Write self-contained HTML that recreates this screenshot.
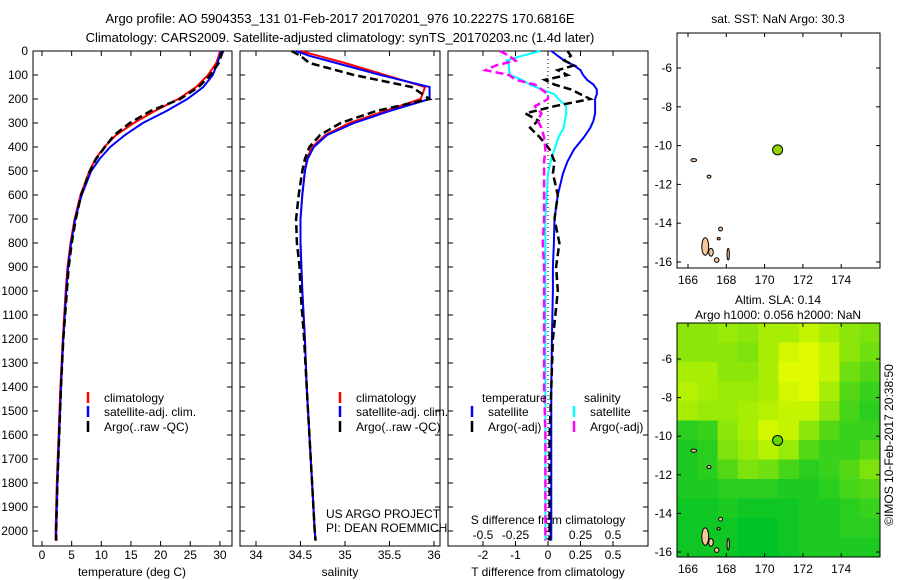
<!DOCTYPE html>
<html><head><meta charset="utf-8">
<style>
html,body{margin:0;padding:0;background:#fff;}
svg{display:block;font-family:"Liberation Sans",sans-serif;}
</style></head>
<body>
<svg id="c" width="900" height="580" viewBox="0 0 900 580" xmlns="http://www.w3.org/2000/svg"></svg>
<script>
// ---- data ----
const depthTicks=[0,100,200,300,400,500,600,700,800,900,1000,1100,1200,1300,1400,1500,1600,1700,1800,1900,2000];
const tempTicks=[0,5,10,15,20,25,30];
const salTicks=[34,34.5,35,35.5,36];
const tdiffTicks=[-2,-1,0,0.5];
const sdiffTicks=[-0.5,-0.25,0,0.25,0.5];
const lonTicks=[166,168,170,172,174];
const latTicks=[-6,-8,-10,-12,-14,-16];

const depths=[0,20,50,100,150,200,250,300,350,400,450,500,600,700,800,900,1000,1200,1400,1600,1800,2000,2040];
const tempClim=[30,29.8,29.4,28,26,23,19,15.5,12.5,10.5,9,8,6.5,5.5,4.8,4.3,4,3.5,3.1,2.8,2.5,2.3,2.3];
const tempSat=[30.2,30,29.6,28.8,27.2,24.5,21,17,14,11.5,9.7,8.3,6.7,5.6,4.9,4.4,4.1,3.6,3.2,2.9,2.6,2.4,2.4];
const tempArgo=[30.5,30.2,29.8,28.4,26.4,23.3,18.3,14.8,12.2,10.6,9.1,8.1,6.6,5.7,5.0,4.5,4.2,3.6,3.2,2.9,2.6,2.4,2.4];
const salClim=[34.5,34.7,35.0,35.45,35.9,35.85,35.45,35.05,34.78,34.63,34.57,34.55,34.52,34.5,34.5,34.51,34.52,34.55,34.57,34.6,34.63,34.66,34.67];
const salSat=[34.45,34.6,34.9,35.4,35.95,35.95,35.5,35.1,34.8,34.65,34.58,34.55,34.52,34.5,34.5,34.51,34.52,34.55,34.57,34.6,34.63,34.66,34.67];
const salArgo=[34.4,34.5,34.6,35.1,35.75,35.95,35.35,34.95,34.72,34.6,34.55,34.52,34.48,34.45,34.46,34.49,34.5,34.54,34.57,34.6,34.63,34.66,34.67];

const diffDepths=[0,20,40,60,80,100,120,140,160,180,200,230,260,290,320,360,410,460,510,600,700,800,900,1000,1200,1400,1600,1800,2000,2040];
const tdiffSat=[0.1,0.3,0.5,0.8,1.0,1.08,1.2,1.4,1.5,1.5,1.45,1.45,1.45,1.4,1.3,1.1,0.8,0.6,0.46,0.3,0.2,0.18,0.15,0.15,0.12,0.1,0.1,0.1,0.1,0.1];
const tdiffArgo=[0.6,0.7,0.5,0.8,0.3,0.6,-0.1,0.2,0.7,1.0,1.3,0.2,-0.7,-0.3,-0.55,-0.25,0.05,0.2,0.15,0.3,0.2,0.35,0.25,0.3,0.15,0.1,0.05,0.05,0.05,0.05];
const sdiffSat=[-0.06,-0.2,-0.32,-0.3,-0.3,-0.29,-0.2,-0.14,-0.05,0.05,0.08,0.14,0.14,0.13,0.12,0.08,0.05,0.02,0.0,-0.01,-0.02,-0.02,-0.02,-0.02,-0.02,-0.02,-0.02,-0.02,-0.02,-0.02];
const sdiffArgo=[-0.37,-0.3,-0.25,-0.4,-0.48,-0.3,-0.25,-0.1,-0.05,0.0,0.0,-0.1,-0.05,-0.08,-0.05,-0.03,-0.02,-0.03,-0.03,-0.03,-0.03,-0.04,-0.03,-0.03,-0.03,-0.03,-0.02,-0.02,-0.02,-0.02];

const argoLon=170.68, argoLat=-10.22;
const islands=[[166.3,-10.75,0.15,0.08],[167.1,-11.6,0.1,0.08],[166.9,-15.2,0.18,0.45],[167.2,-15.5,0.12,0.2],[167.7,-14.3,0.1,0.1],[167.5,-15.9,0.12,0.12],[168.1,-15.6,0.06,0.3],[167.6,-14.8,0.08,0.06]];
const slaLats=[-5,-6,-7,-8,-9,-10,-11,-12,-13,-14,-15,-16];
const slaGrid=[
[0.5,0.5,0.55,0.5,0.6,0.6,0.7,0.6,0.5,0.45],
[0.5,0.5,0.5,0.45,0.6,0.75,0.8,0.7,0.5,0.4],
[0.6,0.6,0.5,0.5,0.6,0.8,0.8,0.7,0.4,0.3],
[0.65,0.6,0.55,0.55,0.6,0.75,0.8,0.6,0.3,0.2],
[0.6,0.55,0.55,0.6,0.65,0.7,0.7,0.5,0.25,0.15],
[0.15,0.2,0.5,0.6,0.75,0.7,0.5,0.3,0.2,0.2],
[0.1,0.15,0.45,0.55,0.65,0.55,0.3,0.2,0.2,0.3],
[0.1,0.15,0.3,0.45,0.4,0.25,0.15,0.2,0.3,0.45],
[0.1,0.1,0.15,0.15,0.15,0.1,0.1,0.15,0.25,0.3],
[0.05,0.05,0.1,0.05,0.05,0.05,0.1,0.1,0.15,0.2],
[0.05,0.05,0.05,0.0,0.0,0.05,0.1,0.1,0.15,0.15],
[0.05,0.05,0.05,0.0,0.0,0.05,0.1,0.1,0.1,0.1]];

// ---- scales ----
const yD=d=>51+d*0.24;
const xT=t=>42+t*5.93;
const xS=s=>256+(s-34)*89;
const xTd=t=>548+t*32.5;
const xSd=s=>548+s*130;
const lonX=l=>688+(l-166)*19.15;
const lat1Y=l=>68+(-6-l)*19.4;
const lat2Y=l=>359+(-6-l)*19.3;

const svg=document.getElementById('c');
const NS='http://www.w3.org/2000/svg';
function mk(tag,attrs,parent){const e=document.createElementNS(NS,tag);for(const k in attrs)e.setAttribute(k,attrs[k]);(parent||svg).appendChild(e);return e;}
function txt(x,y,s,anchor,size,parent){const e=mk('text',{x:x,y:y,'font-size':size||12,'text-anchor':anchor||'start',fill:'#000'},parent);e.textContent=s;return e;}

// titles
let t=txt(340,23,'Argo profile: AO 5904353_131 01-Feb-2017 20170201_976 10.2227S 170.6816E','middle',13);


t=txt(340,42,'Climatology: CARS2009. Satellite-adjusted climatology: synTS_20170203.nc (1.4d later)','middle',13);



function panel(x0,x1,name){
  const g=mk('g',{});
  
  
  mk('rect',{x:x0,y:51,width:x1-x0,height:495,fill:'#fff',stroke:'#000','stroke-width':1},g);
  depthTicks.forEach(d=>{mk('line',{x1:x0,x2:x0+5,y1:yD(d),y2:yD(d),stroke:'#000'},g);mk('line',{x1:x1,x2:x1-5,y1:yD(d),y2:yD(d),stroke:'#000'},g);});
  return g;
}
function line(g,xs,ys,fx,color,dash,name,w){
  const p=xs.map((v,i)=>fx(v).toFixed(1)+','+yD(ys[i]).toFixed(1)).join(' ');
  const e=mk('polyline',{points:p,fill:'none',stroke:color,'stroke-width':w||2,'stroke-dasharray':dash||'none'},g);
  
  
}
function xticks(g,ticks,fx,x0,labels){
  ticks.forEach(v=>{const x=fx(v);mk('line',{x1:x,x2:x,y1:546,y2:541,stroke:'#000'},g);mk('line',{x1:x,x2:x,y1:51,y2:56,stroke:'#000'},g);if(labels)txt(x,559,String(v),'middle',12,g);});
}

// panel 1
const g1=panel(33,232,'temperature-panel');
depthTicks.forEach(d=>txt(28,yD(d)+4,String(d),'end',12,g1));
xticks(g1,tempTicks,xT,33,true);
line(g1,tempClim,depths,xT,'#f00',null,'temp-climatology-line');
line(g1,tempSat,depths,xT,'#00f',null,'temp-satellite-line');
line(g1,tempArgo,depths,xT,'#000','8,4','temp-argo-line',2.5);
txt(132,576,'temperature (deg C)','middle',12,g1);
function legend(g,x,y,color,label,name){
  const lg=mk('g',{},g);
  
  
  mk('line',{x1:x,x2:x,y1:y-10,y2:y+1,stroke:color,'stroke-width':2.5},lg);
  txt(x+16,y,label,'start',12,lg);
}
legend(g1,88,402,'#f00','climatology','legend-climatology');
legend(g1,88,416,'#00f','satellite-adj. clim.','legend-satellite');
legend(g1,88,431,'#000','Argo(..raw -QC)','legend-argo');

// panel 2
const g2=panel(240,440,'salinity-panel');
xticks(g2,salTicks,xS,240,true);
line(g2,salClim,depths,xS,'#f00',null,'sal-climatology-line');
line(g2,salSat,depths,xS,'#00f',null,'sal-satellite-line');
line(g2,salArgo,depths,xS,'#000','8,4','sal-argo-line',2.5);
txt(340,576,'salinity','middle',12,g2);
legend(g2,340,402,'#f00','climatology','legend-climatology-2');
legend(g2,340,416,'#00f','satellite-adj. clim.','legend-satellite-2');
legend(g2,340,431,'#000','Argo(..raw -QC)','legend-argo-2');
txt(326,518,'US ARGO PROJECT','start',12,g2);
txt(326,532,'PI: DEAN ROEMMICH','start',12,g2);

// panel 3
const g3=panel(448,648,'difference-panel');
mk('line',{x1:548,x2:548,y1:51,y2:546,stroke:'#000','stroke-dasharray':'1,3'},g3);
[-2,-1,0,1,2].forEach(v=>{const x=xTd(v);mk('line',{x1:x,x2:x,y1:546,y2:541,stroke:'#000'},g3);mk('line',{x1:x,x2:x,y1:51,y2:56,stroke:'#000'},g3);});
tdiffTicks.forEach(v=>txt(v===0.5?xSd(0.5):xTd(v),559,String(v),'middle',12,g3));
txt(xSd(0.25),559,'0.25','middle',12,g3);
sdiffTicks.forEach(v=>txt(xSd(v),539,String(v),'middle',12,g3));
txt(548,524,'S difference from climatology','middle',12,g3);
txt(548,576,'T difference from climatology','middle',12,g3);
line(g3,tdiffSat,diffDepths,xTd,'#00f',null,'tdiff-satellite-line');
line(g3,sdiffSat,diffDepths,xSd,'#0ff',null,'sdiff-satellite-line');
line(g3,tdiffArgo,diffDepths,xTd,'#000','8,4','tdiff-argo-line',2.5);
line(g3,sdiffArgo,diffDepths,xSd,'#f0f','8,4','sdiff-argo-line',2.5);
txt(482,402,'temperature','start',12,g3);
txt(584,402,'salinity','start',12,g3);
legend(g3,472,416,'#00f','satellite','legend-t-satellite');
legend(g3,472,431,'#000','Argo(-adj)','legend-t-argo');
legend(g3,574,416,'#0ff','satellite','legend-s-satellite');
legend(g3,574,431,'#f0f','Argo(-adj)','legend-s-argo');

// maps
function mapAxes(g,y0,y1,latY){
  lonTicks.forEach(l=>{const x=lonX(l);mk('line',{x1:x,x2:x,y1:y1,y2:y1-4,stroke:'#000'},g);mk('line',{x1:x,x2:x,y1:y0,y2:y0+4,stroke:'#000'},g);txt(x,y1+16,String(l),'middle',12,g);});
  latTicks.forEach(l=>{const y=latY(l);mk('line',{x1:677,x2:681,y1:y,y2:y,stroke:'#000'},g);mk('line',{x1:880,x2:876,y1:y,y2:y,stroke:'#000'},g);txt(672,y+4,String(l),'end',12,g);});
  mk('rect',{x:677,y:y0,width:203,height:y1-y0,fill:'none',stroke:'#000'},g);
}
function drawIslands(g,latY){
  islands.forEach(i=>{const e=mk('ellipse',{cx:lonX(i[0]),cy:latY(i[1]),rx:i[2]*19.15,ry:i[3]*19.4,fill:'#f7c89a',stroke:'#000','stroke-width':1},g);
  
  });
}
const m1=mk('g',{});


mk('rect',{x:677,y:33,width:203,height:235,fill:'#fff'},m1);
drawIslands(m1,lat1Y);
const d1=mk('circle',{cx:lonX(argoLon),cy:lat1Y(argoLat),r:5,fill:'#8fd400',stroke:'#000'},m1);


mapAxes(m1,33,268,lat1Y);
txt(778,23,'sat. SST: NaN Argo: 30.3','middle',12,m1);

const m2=mk('g',{});


function col(v){const r=Math.round(0+v*280),gg=Math.round(195+v*70),b=Math.round(40-v*60);return 'rgb('+Math.min(r,225)+','+Math.min(gg,255)+','+Math.max(b,0)+')';}
const cw=203/slaGrid[0].length, ch=234/slaLats.length;
slaGrid.forEach((row,ri)=>row.forEach((v,ci)=>{const e=mk('rect',{x:677+ci*cw,y:323+ri*ch,width:cw+0.5,height:ch+0.5,fill:col(v)},m2);

}));
drawIslands(m2,lat2Y);
const d2=mk('circle',{cx:lonX(argoLon),cy:lat2Y(argoLat),r:5,fill:'#60d800',stroke:'#000'},m2);


mapAxes(m2,323,557,lat2Y);
txt(778,304,'Altim. SLA: 0.14','middle',12,m2);
txt(778,319,'Argo h1000: 0.056 h2000: NaN','middle',12,m2);
const cr=txt(0,0,'©IMOS 10-Feb-2017 20:38:50','middle',12);
cr.setAttribute('transform','translate(893,445) rotate(-90)');


</script>
</body></html>
